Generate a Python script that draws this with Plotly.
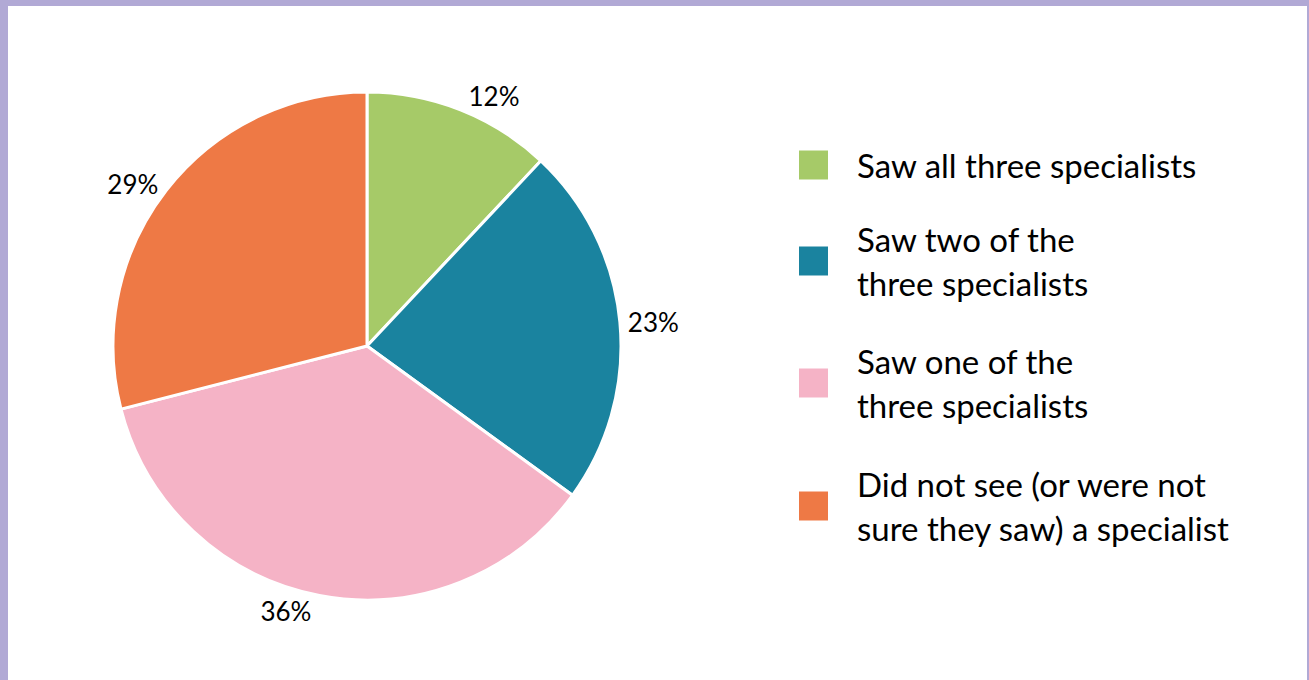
import plotly.graph_objects as go

# ---- data ----
categories = [
    "Saw all three specialists",
    "Saw two of the<br>three specialists",
    "Saw one of the<br>three specialists",
    "Did not see (or were not<br>sure they saw) a specialist",
]
shares = [12, 23, 36, 29]
colors = ["#A6CA68", "#1A839F", "#F5B3C6", "#EE7945"]

# ---- layout constants (pixels) ----
W, H = 1309, 680
FONT = "Lato, 'Open Sans', sans-serif"
BORDER = "#B1A9D5"

def px_x(x):
    return x / W

def px_y(y):
    return 1 - y / H

cx, cy, r = 367, 346, 254

fig = go.Figure(
    go.Pie(
        labels=[c.replace("<br>", " ") for c in categories],
        values=shares,
        marker=dict(colors=colors, line=dict(color="white", width=3)),
        sort=False,
        direction="clockwise",
        rotation=0,
        texttemplate="%{value}%",
        textposition="outside",
        outsidetextfont=dict(family=FONT, size=26, color="#000000"),
        hoverinfo="skip",
        showlegend=False,
        domain=dict(x=[px_x(cx - r), px_x(cx + r)], y=[px_y(cy + r), px_y(cy - r)]),
    )
)

shapes = []
# border frame (top, left, right)
shapes.append(dict(type="rect", xref="paper", yref="paper", x0=0, x1=1, y0=px_y(6), y1=1,
                   fillcolor=BORDER, line=dict(width=0), layer="above"))
shapes.append(dict(type="rect", xref="paper", yref="paper", x0=0, x1=px_x(8), y0=0, y1=1,
                   fillcolor=BORDER, line=dict(width=0), layer="above"))
shapes.append(dict(type="rect", xref="paper", yref="paper", x0=px_x(1307), x1=1, y0=0, y1=1,
                   fillcolor=BORDER, line=dict(width=0), layer="above"))

annotations = []
key_centers = [165, 261, 383, 506]
key_x0, key_size, text_x = 799, 29, 855
line_gap = 44
for cat, col, yc in zip(categories, colors, key_centers):
    shapes.append(dict(type="rect", xref="paper", yref="paper",
                       x0=px_x(key_x0), x1=px_x(key_x0 + key_size),
                       y0=px_y(yc + key_size / 2), y1=px_y(yc - key_size / 2),
                       fillcolor=col, line=dict(width=0)))
    lines = cat.split("<br>")
    n = len(lines)
    for i, ln in enumerate(lines):
        ly = yc + (i - (n - 1) / 2) * line_gap
        annotations.append(dict(xref="paper", yref="paper", x=px_x(text_x), y=px_y(ly),
                                xanchor="left", yanchor="middle", showarrow=False,
                                text=ln, font=dict(family=FONT, size=33, color="#000000")))

fig.update_layout(
    width=W, height=H,
    margin=dict(l=0, r=0, t=0, b=0),
    paper_bgcolor="white",
    plot_bgcolor="white",
    shapes=shapes,
    annotations=annotations,
    font=dict(family=FONT),
)

fig.write_html("out.html")
